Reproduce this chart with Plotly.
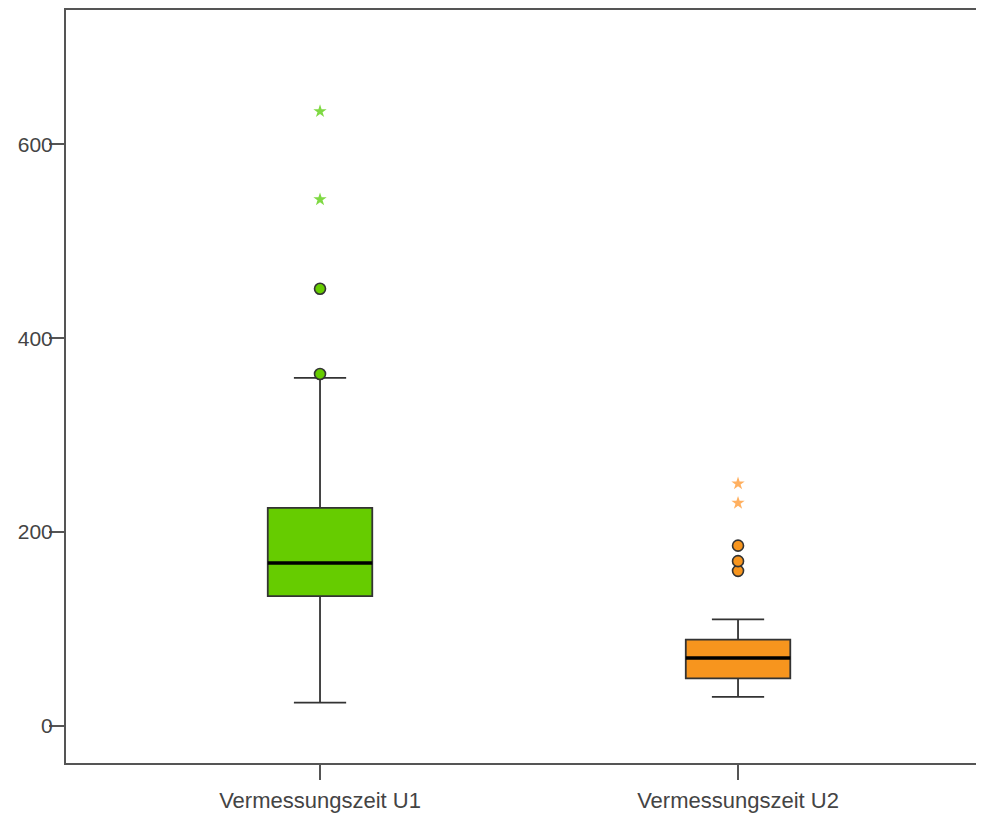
import plotly.graph_objects as go

categories = ["Vermessungszeit U1", "Vermessungszeit U2"]
lower_whisker = [24, 30]
q1 = [134, 49]
median = [168, 70]
q3 = [225, 89]
upper_whisker = [359, 110]
outliers_circle = [[363, 451], [160, 170, 186]]
outliers_star = [[543, 634], [230, 250]]
y_ticks = [0, 200, 400, 600]

box_colors = ["#66CC00", "#F7951E"]
star_colors = ["#7FD943", "#FFB060"]
axis_color = "#555555"
text_color = "#444444"
box_width = 0.25

fig = go.Figure()
for i, name in enumerate(categories):
    fig.add_trace(go.Box(
        x=[i], q1=[q1[i]], median=[median[i]], q3=[q3[i]],
        lowerfence=[lower_whisker[i]], upperfence=[upper_whisker[i]],
        width=box_width, whiskerwidth=0.5,
        fillcolor=box_colors[i], line=dict(color="#333333", width=1.8),
        boxpoints=False, name=name, showlegend=False, hoverinfo="y",
    ))
    # thicker median line
    fig.add_trace(go.Scatter(
        x=[i - box_width / 2, i + box_width / 2], y=[median[i], median[i]],
        mode="lines", line=dict(color="#000000", width=3.5),
        showlegend=False, hoverinfo="skip",
    ))
    fig.add_trace(go.Scatter(
        x=[i] * len(outliers_circle[i]), y=outliers_circle[i], mode="markers",
        marker=dict(symbol="circle", size=11, color=box_colors[i],
                    line=dict(color="#333333", width=1.6)),
        showlegend=False,
    ))
    fig.add_trace(go.Scatter(
        x=[i] * len(outliers_star[i]), y=outliers_star[i], mode="markers",
        marker=dict(symbol="star", size=10, color=star_colors[i],
                    line=dict(width=0)),
        showlegend=False,
    ))

# page body has an 8px margin: figure sized to fit the 984x821 window
fig.update_layout(
    width=968, height=805,
    margin=dict(l=58, r=0, t=1, b=42),
    paper_bgcolor="white", plot_bgcolor="white",
    font=dict(family="Liberation Sans, Arial, sans-serif", size=21, color=text_color),
    showlegend=False,
)
fig.update_xaxes(
    range=[-0.6077, 1.5693], tickvals=list(range(len(categories))), ticktext=categories,
    showline=True, linecolor=axis_color, linewidth=2, mirror=True,
    ticks="outside", ticklen=15, tickwidth=1.5, tickcolor=axis_color,
    showgrid=False, zeroline=False, ticklabelstandoff=2,
    tickfont=dict(size=22),
)
fig.update_yaxes(
    range=[-38.2, 738.5], tickvals=y_ticks,
    showline=True, linecolor=axis_color, linewidth=2,
    ticks="outside", ticklen=15, tickwidth=1.5, tickcolor=axis_color,
    showgrid=False, zeroline=False, ticklabelstandoff=-8,
)

fig.write_html("out.html")
